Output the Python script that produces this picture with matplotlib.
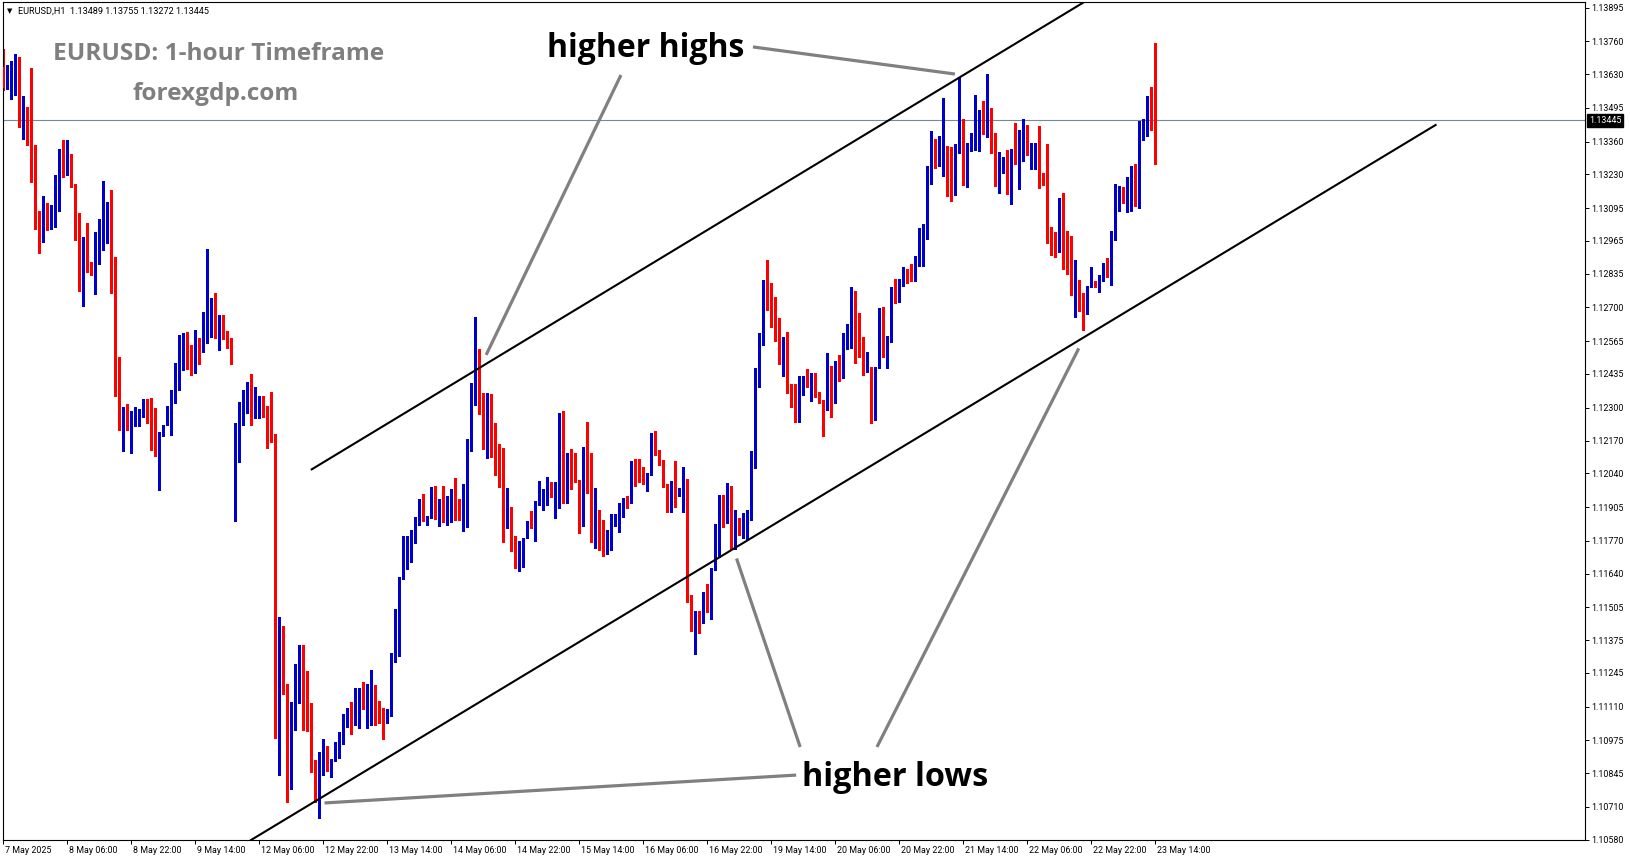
import numpy as np
import matplotlib
matplotlib.use("Agg")
import matplotlib.pyplot as plt
from matplotlib import transforms

# ---------------- data (EURUSD H1, bar 0 = 7 May 2025 14:00) ----------------
opens = [
    1.13658, 1.13579, 1.13595, 1.13666, 1.13670, 1.13475, 1.13491, 1.13404, 1.13344, 1.13073,
    1.12970, 1.13117, 1.13014, 1.13033, 1.13101, 1.13324, 1.13228, 1.13280, 1.13189, 1.13041,
    1.12823, 1.12978, 1.12882, 1.12850, 1.12878, 1.12958, 1.12998, 1.13065, 1.12791, 1.12488,
    1.12265, 1.12277, 1.12249, 1.12265, 1.12226, 1.12273, 1.12329, 1.12281, 1.12277, 1.12126,
    1.12186, 1.12233, 1.12285, 1.12361, 1.12405, 1.12520, 1.12572, 1.12472, 1.12460, 1.12552,
    1.12544, 1.12584, 1.12679, 1.12703, 1.12588, 1.12624, 1.12592, 1.12568, 1.11871, 1.12114,
    1.12257, 1.12289, 1.12397, 1.12265, 1.12285, 1.12333, 1.12285, 1.12230, 1.12190, 1.11059,
    1.11382, 1.11199, 1.10809, 1.11123, 1.11147, 1.11199, 1.11127, 1.11063, 1.10860, 1.10801,
    1.10904, 1.10936, 1.10848, 1.10896, 1.10948, 1.10968, 1.11055, 1.11075, 1.11039, 1.11171,
    1.11179, 1.11111, 1.11123, 1.11171, 1.11131, 1.11075, 1.11051, 1.11079, 1.11318, 1.11366,
    1.11621, 1.11760, 1.11768, 1.11780, 1.11863, 1.11907, 1.11855, 1.11863, 1.11983, 1.11863,
    1.11931, 1.11887, 1.11895, 1.11963, 1.11895, 1.11867, 1.11887, 1.12154, 1.12397, 1.12528,
    1.12317, 1.12178, 1.12261, 1.12206, 1.12126, 1.12062, 1.11895, 1.11903, 1.11788, 1.11680,
    1.11724, 1.11780, 1.11843, 1.11820, 1.11923, 1.11939, 1.11951, 1.11979, 1.11939, 1.11947,
    1.12281, 1.11979, 1.12110, 1.12034, 1.12011, 1.11839, 1.12110, 1.12015, 1.11871, 1.11891,
    1.11820, 1.11720, 1.11780, 1.11843, 1.11867, 1.11887, 1.11939, 1.11923, 1.12058, 1.12042,
    1.12031, 1.12007, 1.12042, 1.12166, 1.12130, 1.12090, 1.11995, 1.11947, 1.12007, 1.11947,
    1.11979, 1.12015, 1.11553, 1.11410, 1.11461, 1.11457, 1.11533, 1.11501, 1.11660, 1.11708,
    1.11911, 1.11895, 1.11983, 1.11768, 1.11832, 1.11816, 1.11843, 1.11859, 1.12098, 1.12389,
    1.12576, 1.12807, 1.12787, 1.12735, 1.12576, 1.12520, 1.12548, 1.12373, 1.12345, 1.12309,
    1.12357, 1.12409, 1.12353, 1.12436, 1.12361, 1.12329, 1.12293, 1.12397, 1.12325, 1.12456,
    1.12421, 1.12552, 1.12572, 1.12763, 1.12592, 1.12560, 1.12452, 1.12464, 1.12349, 1.12464,
    1.12695, 1.12536, 1.12568, 1.12747, 1.12735, 1.12811, 1.12823, 1.12827, 1.12811, 1.12890,
    1.12958, 1.12986, 1.13217, 1.13340, 1.13288, 1.13320, 1.13324, 1.13240, 1.13232, 1.13356,
    1.13392, 1.13236, 1.13348, 1.13368, 1.13408, 1.13431, 1.13404, 1.13491, 1.13336, 1.13189,
    1.13240, 1.13288, 1.13153, 1.13324, 1.13272, 1.13376, 1.13392, 1.13324, 1.13332, 1.13340,
    1.13228, 1.13217, 1.13022, 1.12942, 1.12922, 1.13093, 1.12958, 1.12834, 1.12775, 1.12811,
    1.12703, 1.12679, 1.12783, 1.12795, 1.12791, 1.12807, 1.12870, 1.12823, 1.12970, 1.13145,
    1.13153, 1.13117, 1.13181, 1.13228, 1.13129, 1.13396, 1.13420, 1.13499, 1.13489,
]
highs = [
    1.13730, 1.13666, 1.13682, 1.13710, 1.13698, 1.13543, 1.13499, 1.13654, 1.13348, 1.13085,
    1.13145, 1.13117, 1.13109, 1.13228, 1.13332, 1.13368, 1.13368, 1.13312, 1.13193, 1.13077,
    1.12982, 1.13037, 1.12882, 1.13002, 1.13053, 1.13205, 1.13121, 1.13169, 1.12902, 1.12504,
    1.12305, 1.12317, 1.12289, 1.12305, 1.12297, 1.12337, 1.12337, 1.12341, 1.12301, 1.12202,
    1.12233, 1.12309, 1.12373, 1.12480, 1.12592, 1.12600, 1.12604, 1.12552, 1.12612, 1.12580,
    1.12683, 1.12934, 1.12739, 1.12759, 1.12671, 1.12671, 1.12608, 1.12580, 1.12241, 1.12325,
    1.12373, 1.12405, 1.12436, 1.12385, 1.12349, 1.12349, 1.12309, 1.12365, 1.12194, 1.11465,
    1.11430, 1.11199, 1.11127, 1.11278, 1.11354, 1.11354, 1.11250, 1.11123, 1.10896, 1.10928,
    1.10980, 1.10952, 1.10900, 1.10968, 1.11008, 1.11079, 1.11103, 1.11127, 1.11183, 1.11183,
    1.11207, 1.11199, 1.11254, 1.11195, 1.11131, 1.11103, 1.11099, 1.11322, 1.11497, 1.11625,
    1.11788, 1.11788, 1.11812, 1.11867, 1.11935, 1.11955, 1.11871, 1.11983, 1.11987, 1.11935,
    1.11987, 1.11947, 1.11975, 1.12019, 1.11935, 1.11995, 1.12174, 1.12401, 1.12663, 1.12536,
    1.12361, 1.12361, 1.12357, 1.12241, 1.12158, 1.12142, 1.11979, 1.11907, 1.11788, 1.11768,
    1.11780, 1.11851, 1.11891, 1.11927, 1.12007, 1.11975, 1.12023, 1.12003, 1.12003, 1.12281,
    1.12289, 1.12122, 1.12138, 1.12122, 1.12011, 1.12146, 1.12245, 1.12122, 1.11979, 1.11895,
    1.11855, 1.11812, 1.11879, 1.11879, 1.11923, 1.11939, 1.11947, 1.12090, 1.12098, 1.12098,
    1.12066, 1.12042, 1.12198, 1.12206, 1.12134, 1.12094, 1.11995, 1.12007, 1.12090, 1.11979,
    1.12066, 1.12015, 1.11553, 1.11489, 1.11489, 1.11565, 1.11597, 1.11664, 1.11839, 1.11951,
    1.11951, 1.11999, 1.11987, 1.11895, 1.11863, 1.11883, 1.11895, 1.12130, 1.12460, 1.12600,
    1.12811, 1.12890, 1.12799, 1.12743, 1.12659, 1.12584, 1.12604, 1.12397, 1.12397, 1.12425,
    1.12425, 1.12456, 1.12440, 1.12440, 1.12365, 1.12333, 1.12520, 1.12468, 1.12488, 1.12512,
    1.12600, 1.12635, 1.12783, 1.12767, 1.12679, 1.12584, 1.12524, 1.12464, 1.12464, 1.12699,
    1.12703, 1.12588, 1.12783, 1.12815, 1.12815, 1.12862, 1.12854, 1.12874, 1.12906, 1.13018,
    1.13033, 1.13264, 1.13404, 1.13372, 1.13384, 1.13535, 1.13344, 1.13340, 1.13352, 1.13619,
    1.13451, 1.13356, 1.13396, 1.13547, 1.13487, 1.13523, 1.13630, 1.13495, 1.13396, 1.13320,
    1.13300, 1.13328, 1.13332, 1.13435, 1.13408, 1.13451, 1.13427, 1.13356, 1.13356, 1.13424,
    1.13236, 1.13352, 1.13022, 1.13002, 1.13137, 1.13157, 1.13006, 1.12986, 1.12890, 1.12811,
    1.12759, 1.12787, 1.12862, 1.12807, 1.12830, 1.12878, 1.12898, 1.13006, 1.13193, 1.13185,
    1.13181, 1.13221, 1.13264, 1.13272, 1.13443, 1.13451, 1.13543, 1.13579, 1.13755,
]
lows = [
    1.13567, 1.13571, 1.13531, 1.13547, 1.13420, 1.13372, 1.13348, 1.13201, 1.13014, 1.12918,
    1.12962, 1.13010, 1.13014, 1.13022, 1.13085, 1.13221, 1.13228, 1.13181, 1.12970, 1.12767,
    1.12707, 1.12842, 1.12830, 1.12755, 1.12874, 1.12930, 1.12958, 1.12759, 1.12349, 1.12210,
    1.12130, 1.12210, 1.12122, 1.12226, 1.12226, 1.12265, 1.12241, 1.12134, 1.12110, 1.11971,
    1.12186, 1.12233, 1.12190, 1.12321, 1.12373, 1.12452, 1.12456, 1.12429, 1.12440, 1.12476,
    1.12524, 1.12560, 1.12584, 1.12580, 1.12532, 1.12576, 1.12540, 1.12476, 1.11851, 1.12086,
    1.12233, 1.12281, 1.12230, 1.12261, 1.12261, 1.12265, 1.12142, 1.12166, 1.10984, 1.10837,
    1.11159, 1.10729, 1.10781, 1.11016, 1.11123, 1.11016, 1.11012, 1.10848, 1.10729, 1.10665,
    1.10837, 1.10852, 1.10829, 1.10892, 1.10904, 1.10960, 1.11028, 1.11000, 1.11036, 1.11024,
    1.11099, 1.11024, 1.11036, 1.11036, 1.11043, 1.10980, 1.11043, 1.11071, 1.11286, 1.11310,
    1.11617, 1.11660, 1.11684, 1.11760, 1.11835, 1.11851, 1.11835, 1.11863, 1.11859, 1.11828,
    1.11847, 1.11835, 1.11847, 1.11855, 1.11855, 1.11808, 1.11824, 1.12130, 1.12313, 1.12277,
    1.12138, 1.12102, 1.12106, 1.12031, 1.11983, 1.11764, 1.11820, 1.11728, 1.11664, 1.11652,
    1.11668, 1.11780, 1.11820, 1.11768, 1.11915, 1.11895, 1.11915, 1.11943, 1.11863, 1.11903,
    1.11923, 1.11923, 1.11975, 1.12003, 1.11800, 1.11828, 1.11959, 1.11764, 1.11740, 1.11732,
    1.11708, 1.11716, 1.11732, 1.11828, 1.11804, 1.11867, 1.11903, 1.11923, 1.11987, 1.12003,
    1.11995, 1.11967, 1.12034, 1.12114, 1.12074, 1.11983, 1.11887, 1.11887, 1.11907, 1.11947,
    1.11887, 1.11525, 1.11410, 1.11318, 1.11402, 1.11441, 1.11485, 1.11457, 1.11655, 1.11704,
    1.11824, 1.11843, 1.11736, 1.11736, 1.11792, 1.11780, 1.11776, 1.11855, 1.12062, 1.12385,
    1.12552, 1.12691, 1.12624, 1.12568, 1.12476, 1.12425, 1.12361, 1.12305, 1.12245, 1.12245,
    1.12353, 1.12385, 1.12329, 1.12345, 1.12321, 1.12186, 1.12293, 1.12265, 1.12321, 1.12409,
    1.12421, 1.12536, 1.12540, 1.12480, 1.12504, 1.12432, 1.12444, 1.12241, 1.12253, 1.12460,
    1.12504, 1.12460, 1.12564, 1.12719, 1.12723, 1.12787, 1.12799, 1.12807, 1.12807, 1.12866,
    1.12866, 1.12974, 1.13193, 1.13256, 1.13264, 1.13225, 1.13145, 1.13125, 1.13149, 1.13316,
    1.13189, 1.13181, 1.13324, 1.13328, 1.13324, 1.13392, 1.13380, 1.13316, 1.13185, 1.13157,
    1.13236, 1.13153, 1.13113, 1.13272, 1.13173, 1.13284, 1.13308, 1.13252, 1.13252, 1.13177,
    1.13189, 1.12958, 1.12910, 1.12902, 1.12922, 1.12854, 1.12834, 1.12751, 1.12663, 1.12687,
    1.12612, 1.12675, 1.12783, 1.12783, 1.12763, 1.12807, 1.12823, 1.12791, 1.12970, 1.13085,
    1.13117, 1.13081, 1.13085, 1.13105, 1.13097, 1.13368, 1.13384, 1.13408, 1.13272,
]
closes = [
    1.13575, 1.13595, 1.13670, 1.13674, 1.13475, 1.13495, 1.13404, 1.13340, 1.13069, 1.13014,
    1.13117, 1.13014, 1.13033, 1.13105, 1.13320, 1.13228, 1.13280, 1.13181, 1.13037, 1.12823,
    1.12978, 1.12882, 1.12850, 1.12882, 1.12966, 1.13002, 1.13065, 1.12783, 1.12488, 1.12265,
    1.12273, 1.12249, 1.12269, 1.12285, 1.12285, 1.12329, 1.12273, 1.12273, 1.12126, 1.12194,
    1.12233, 1.12285, 1.12365, 1.12413, 1.12520, 1.12572, 1.12464, 1.12460, 1.12552, 1.12544,
    1.12592, 1.12683, 1.12703, 1.12588, 1.12628, 1.12592, 1.12576, 1.12500, 1.12126, 1.12261,
    1.12289, 1.12401, 1.12265, 1.12293, 1.12337, 1.12281, 1.12230, 1.12186, 1.11063, 1.11386,
    1.11195, 1.10809, 1.11127, 1.11147, 1.11199, 1.11123, 1.11059, 1.10856, 1.10801, 1.10908,
    1.10936, 1.10868, 1.10896, 1.10948, 1.10972, 1.11059, 1.11079, 1.11039, 1.11179, 1.11179,
    1.11111, 1.11127, 1.11171, 1.11123, 1.11079, 1.11055, 1.11079, 1.11318, 1.11370, 1.11625,
    1.11760, 1.11768, 1.11780, 1.11863, 1.11907, 1.11859, 1.11863, 1.11983, 1.11863, 1.11931,
    1.11887, 1.11899, 1.11963, 1.11891, 1.11867, 1.11891, 1.12158, 1.12397, 1.12528, 1.12313,
    1.12178, 1.12261, 1.12206, 1.12126, 1.12058, 1.11895, 1.11903, 1.11788, 1.11680, 1.11724,
    1.11776, 1.11835, 1.11820, 1.11923, 1.11943, 1.11959, 1.11975, 1.11951, 1.11943, 1.12281,
    1.11979, 1.12110, 1.12027, 1.12007, 1.11839, 1.12106, 1.12015, 1.11867, 1.11887, 1.11820,
    1.11716, 1.11780, 1.11847, 1.11847, 1.11891, 1.11931, 1.11923, 1.12058, 1.12038, 1.12027,
    1.12011, 1.12042, 1.12166, 1.12126, 1.12098, 1.11995, 1.11951, 1.12007, 1.11947, 1.11979,
    1.12011, 1.11553, 1.11410, 1.11461, 1.11457, 1.11537, 1.11501, 1.11660, 1.11712, 1.11911,
    1.11895, 1.11983, 1.11768, 1.11832, 1.11816, 1.11843, 1.11859, 1.12098, 1.12389, 1.12580,
    1.12803, 1.12787, 1.12735, 1.12572, 1.12520, 1.12544, 1.12365, 1.12345, 1.12309, 1.12357,
    1.12409, 1.12405, 1.12429, 1.12357, 1.12329, 1.12285, 1.12393, 1.12325, 1.12456, 1.12429,
    1.12552, 1.12584, 1.12771, 1.12552, 1.12556, 1.12448, 1.12464, 1.12349, 1.12464, 1.12695,
    1.12540, 1.12580, 1.12747, 1.12727, 1.12783, 1.12850, 1.12815, 1.12811, 1.12890, 1.12962,
    1.12990, 1.13225, 1.13344, 1.13296, 1.13324, 1.13332, 1.13232, 1.13225, 1.13352, 1.13392,
    1.13236, 1.13348, 1.13372, 1.13412, 1.13431, 1.13404, 1.13487, 1.13336, 1.13189, 1.13296,
    1.13284, 1.13153, 1.13324, 1.13272, 1.13384, 1.13392, 1.13332, 1.13340, 1.13340, 1.13228,
    1.13217, 1.13018, 1.12942, 1.12922, 1.13093, 1.12954, 1.12834, 1.12775, 1.12811, 1.12695,
    1.12683, 1.12787, 1.12791, 1.12787, 1.12803, 1.12870, 1.12827, 1.12974, 1.13145, 1.13153,
    1.13117, 1.13185, 1.13232, 1.13125, 1.13400, 1.13424, 1.13495, 1.13487, 1.13445,
]

y_tick_values = [1.13895, 1.13760, 1.13630, 1.13495, 1.13360, 1.13230, 1.13095, 1.12965,
                 1.12835, 1.12700, 1.12565, 1.12435, 1.12300, 1.12170, 1.12040, 1.11905,
                 1.11770, 1.11640, 1.11505, 1.11375, 1.11245, 1.11110, 1.10975, 1.10845,
                 1.10710, 1.10580]
x_tick_bars = [0, 16, 32, 48, 64, 80, 96, 112, 128, 144, 160, 176, 192, 208, 224,
               240, 256, 272, 288]
x_tick_labels = ["7 May 2025", "8 May 06:00", "8 May 22:00", "9 May 14:00",
                 "12 May 06:00", "12 May 22:00", "13 May 14:00", "14 May 06:00",
                 "14 May 22:00", "15 May 14:00", "16 May 06:00", "16 May 22:00",
                 "19 May 14:00", "20 May 06:00", "20 May 22:00", "21 May 14:00",
                 "22 May 06:00", "22 May 22:00", "23 May 14:00"]
last_price = 1.13445
header_text = "EURUSD,H1  1.13489 1.13755 1.13272 1.13445"

# analyst drawings (bar index, price)
upper_channel = [(77.1, 1.12055), (250.4, 1.13726)]
lower_channel = [(61.9, 1.10578), (358.05, 1.13427)]
hh_connectors = [[(187.4, 1.13738), (237.9, 1.13630)],
                 [(154.4, 1.13626), (120.7, 1.12511)]]
hl_connectors = [[(80.3, 1.10726), (198.2, 1.10837)],
                 [(199.2, 1.10949), (183.3, 1.11700)],
                 [(218.4, 1.10949), (268.85, 1.12537)]]

# ---------------- figure ----------------
W, H = 1631, 861
fig = plt.figure(figsize=(W / 100, H / 100), dpi=100)
fig.patch.set_facecolor("white")
ax = fig.add_axes([3 / W, 21 / H, 1582 / W, 838 / H])

o = np.array(opens); h = np.array(highs); l = np.array(lows); c = np.array(closes)
x = np.arange(len(o))
BLUE, RED = "#0000CD", "#FF0000"
cols = np.where(c >= o, BLUE, RED)

ax.axhline(last_price, color="#778899", lw=0.8, zorder=1)

ax.vlines(x, l, h, colors=cols, linewidth=0.75, zorder=2, antialiased=False)
body_lo = np.minimum(o, c)
body_h = np.maximum(np.abs(c - o), 0.00003)
ax.bar(x, body_h, bottom=body_lo, width=0.74, color=cols, linewidth=0,
       zorder=3, antialiased=False)

ylo, yhi = 1.105784, 1.139170
ax.set_ylim(ylo, yhi)
ax.set_xlim(-0.075, 395.4)


def extend(p0, p1, x_end):
    (x0, y0), (x1, y1) = p0, p1
    s = (y1 - y0) / (x1 - x0)
    return [x0, x_end], [y0, y0 + s * (x_end - x0)]


ux, uy = extend(upper_channel[0], upper_channel[1], 320)
ax.plot(ux, uy, color="black", lw=1.5, zorder=4)
lx, ly = extend(lower_channel[0], lower_channel[1], lower_channel[1][0])
ax.plot(lx, ly, color="black", lw=1.5, zorder=4)

for seg in hh_connectors + hl_connectors:
    ax.plot([seg[0][0], seg[1][0]], [seg[0][1], seg[1][1]], color="#808080",
            lw=2.3, zorder=5, solid_capstyle="butt")

big = dict(family="Open Sans", weight="bold")
ax.text(160.7, 1.13730, "higher highs", fontsize=23, color="black",
        ha="center", va="center", zorder=6, **big)
ax.text(223.0, 1.10829, "higher lows", fontsize=23.3, color="black",
        ha="center", va="center", zorder=6, **big)
ax.text(53.9, 1.13708, "EURUSD: 1-hour Timeframe", fontsize=17.6, color="#7F7F7F",
        ha="center", va="center", zorder=6, **big)
ax.text(53.2, 1.13552, "forexgdp.com", fontsize=17.6, color="#7F7F7F",
        ha="center", va="center", zorder=6, **big)

# axes styling
for sp in ax.spines.values():
    sp.set_color("black")
    sp.set_linewidth(0.8)
ax.yaxis.tick_right()
ax.set_yticks(y_tick_values)
ax.set_yticklabels([f"{v:.5f}" for v in y_tick_values])
ax.set_xticks(x_tick_bars)
ax.set_xticklabels(x_tick_labels, ha="left")
ax.tick_params(axis="both", direction="out", length=3, width=0.7, colors="black",
               labelsize=6.4, pad=1.5)
for lab in ax.get_yticklabels() + ax.get_xticklabels():
    lab.set_family("Roboto")
offset = transforms.ScaledTranslation(2 / 100, 0, fig.dpi_scale_trans)
for lab in ax.get_xticklabels():
    lab.set_transform(lab.get_transform() + offset)

# last price tag
trans = transforms.blended_transform_factory(ax.transAxes, ax.transData)
ax.text(1.0 + 4 / 1582, last_price, f"{last_price:.5f}", transform=trans,
        ha="left", va="center", fontsize=6.4, family="Roboto", color="white",
        bbox=dict(boxstyle="square,pad=0.2", fc="black", ec="black"),
        zorder=10, clip_on=False)

# header
fig.text(10 / W, 1 - 11 / H, "\u25BC", fontsize=5, ha="center", va="center",
         family="DejaVu Sans")
fig.text(18 / W, 1 - 11 / H, header_text, fontsize=6.6, ha="left", va="center",
         family="Roboto")

fig.savefig("out.png", dpi=100)
